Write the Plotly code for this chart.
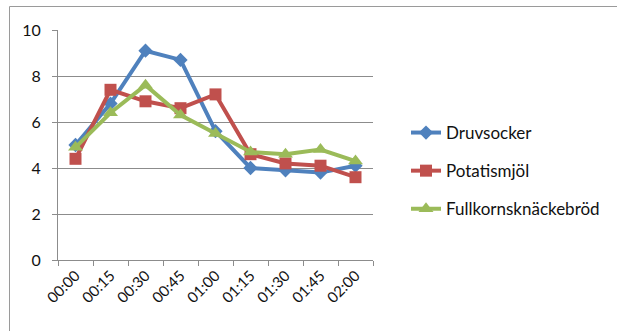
import plotly.graph_objects as go

times = ["00:00", "00:15", "00:30", "00:45", "01:00", "01:15", "01:30", "01:45", "02:00"]
druvsocker = [5.0, 6.8, 9.1, 8.7, 5.6, 4.0, 3.9, 3.8, 4.1]
potatismjol = [4.4, 7.4, 6.9, 6.6, 7.2, 4.6, 4.2, 4.1, 3.6]
fullkorn = [4.9, 6.4, 7.6, 6.3, 5.5, 4.7, 4.6, 4.8, 4.3]

series = [
    ("Druvsocker", druvsocker, "#4F81BD", "diamond", 11),
    ("Potatismjöl", potatismjol, "#C0504D", "square", 12),
    ("Fullkornsknäckebröd", fullkorn, "#9BBB59", "triangle-up", 13),
]

W, H = 617, 331
ML, MR, MT, MB = 58, 244, 30, 71
pw, ph = W - ML - MR, H - MT - MB

fig = go.Figure()
for i, (name, vals, color, sym, size) in enumerate(series):
    fig.add_trace(go.Scatter(
        x=times, y=vals, name=name, mode="lines+markers",
        line=dict(color=color, width=4),
        marker=dict(symbol=sym, size=size, color=color),
        legendgroup=f"g{i}",
    ))

def px_x(p):
    return (p - ML) / pw

def px_y(p):
    return (H - MB - p) / ph

grid = "#8C8C8C"
fig.update_layout(
    width=W, height=H,
    margin=dict(l=ML, r=MR, t=MT, b=MB),
    paper_bgcolor="white", plot_bgcolor="white",
    font=dict(family="Lato, Open Sans, sans-serif", size=15, color="#111111"),
    showlegend=True,
    legend=dict(
        x=px_x(406), y=px_y(171), xanchor="left", yanchor="middle",
        tracegroupgap=13, font=dict(size=17, color="#111111"),
        bgcolor="rgba(0,0,0,0)",
    ),
    xaxis=dict(
        type="category", tickangle=-45, showgrid=False,
        showline=True, linecolor=grid, linewidth=1,
        ticks="outside", ticklen=5, tickcolor=grid, tickson="boundaries",
        tickfont=dict(size=15), range=[-0.5, 8.5], fixedrange=True,
    ),
    yaxis=dict(
        range=[0, 10], dtick=2, showgrid=True, gridcolor=grid, gridwidth=1,
        showline=True, linecolor=grid, linewidth=1,
        ticks="outside", ticklen=5, tickcolor=grid,
        zeroline=False, tickfont=dict(size=16), ticklabelstandoff=8,
    ),
    shapes=[dict(
        type="rect", xref="paper", yref="paper",
        x0=px_x(9.5), x1=px_x(W + 5), y0=px_y(H + 5), y1=px_y(6.5),
        line=dict(color="#9A9A9A", width=1), fillcolor="rgba(0,0,0,0)",
        layer="below",
    )],
)

fig.write_html("out.html")
